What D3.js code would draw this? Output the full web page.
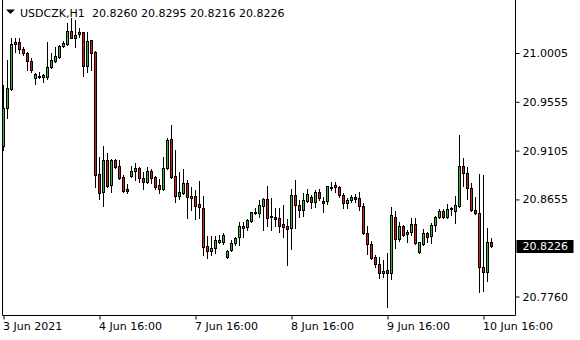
<!DOCTYPE html>
<html>
<head>
<meta charset="utf-8">
<script src="https://cdn.jsdelivr.net/npm/d3@7"></script>
<style>
  body { margin: 0; background: #fff; }
  svg { display: block; font-family: "DejaVu Sans", sans-serif; }
</style>
</head>
<body>
<svg id="Chart" width="580" height="340"></svg>
<script>
var symbol = "USDCZK,H1"

// hourly bars, oldest first
var opens = [20.9148,20.9498,20.9673,21.0088,21.0106,21.0042,21.0005,20.9931,20.9775,20.9784,
  20.9784,20.9784,20.9876,20.9931,20.9968,21.0070,21.0088,21.0208,21.0143,21.0180,
  21.0199,20.9885,21.0125,21.0014,20.8889,20.8723,20.9018,20.8788,20.9018,20.8963,
  20.8862,20.8751,20.8871,20.8917,20.8945,20.8853,20.8816,20.8917,20.8862,20.8788,
  20.8751,20.8945,20.9212,20.8871,20.8687,20.8714,20.8806,20.8668,20.8687,20.8613,
  20.8576,20.8226,20.8180,20.8207,20.8263,20.8263,20.8124,20.8189,20.8253,20.8309,
  20.8392,20.8401,20.8456,20.8530,20.8530,20.8594,20.8659,20.8502,20.8493,20.8484,
  20.8429,20.8410,20.8392,20.8696,20.8604,20.8557,20.8640,20.8677,20.8631,20.8723,
  20.8640,20.8640,20.8760,20.8788,20.8770,20.8696,20.8622,20.8650,20.8677,20.8668,
  20.8594,20.8346,20.8244,20.8124,20.8060,20.7976,20.8004,20.7976,20.8493,20.8290,
  20.8410,20.8336,20.8355,20.8429,20.8170,20.8244,20.8346,20.8318,20.8419,20.8493,
  20.8548,20.8493,20.8567,20.8548,20.8594,20.8963,20.8899,20.8760,20.8557,20.8530,
  20.8032,20.7986,20.8260]
var highs = [20.9710,20.9940,21.0143,21.0143,21.0143,21.0060,21.0014,20.9959,20.9821,20.9830,
  20.9811,21.0106,21.0005,21.0060,21.0079,21.0116,21.0282,21.0328,21.0309,21.0236,
  21.0199,21.0199,21.0125,21.0023,20.9046,20.9148,20.9083,20.9028,20.9028,20.9018,
  20.8880,20.8797,20.8963,20.8991,20.8954,20.8908,20.8954,20.8935,20.8871,20.8843,
  20.9046,20.9221,20.9341,20.9111,20.8908,20.8935,20.8834,20.8770,20.8742,20.8825,
  20.8687,20.8318,20.8318,20.8318,20.8327,20.8346,20.8189,20.8281,20.8309,20.8447,
  20.8447,20.8475,20.8539,20.8576,20.8650,20.8668,20.8779,20.8668,20.8576,20.8576,
  20.8604,20.8475,20.8751,20.8834,20.8650,20.8714,20.8751,20.8696,20.8742,20.8751,
  20.8677,20.8779,20.8816,20.8816,20.8779,20.8714,20.8668,20.8696,20.8705,20.8723,
  20.8622,20.8410,20.8272,20.8143,20.8124,20.8097,20.8161,20.8585,20.8548,20.8447,
  20.8419,20.8373,20.8484,20.8484,20.8263,20.8382,20.8355,20.8438,20.8502,20.8567,
  20.8567,20.8613,20.8585,20.8687,20.9249,20.9037,20.8954,20.8806,20.8677,20.8889,
  20.8880,20.8392,20.8295]
var lows = [20.9111,20.9406,20.9664,21.0014,21.0005,20.9987,20.9848,20.9830,20.9719,20.9775,
  20.9738,20.9765,20.9867,20.9922,20.9959,21.0060,21.0079,21.0143,21.0060,21.0153,
  20.9793,20.9830,20.9848,20.8770,20.8659,20.8594,20.8770,20.8723,20.8945,20.8843,
  20.8723,20.8714,20.8862,20.8834,20.8816,20.8751,20.8806,20.8806,20.8751,20.8714,
  20.8742,20.8935,20.8853,20.8631,20.8659,20.8705,20.8484,20.8557,20.8475,20.8484,
  20.8143,20.8115,20.8143,20.8161,20.8253,20.8244,20.8115,20.8180,20.8235,20.8235,
  20.8309,20.8373,20.8447,20.8521,20.8493,20.8373,20.8410,20.8373,20.8410,20.8355,
  20.8309,20.8050,20.8198,20.8392,20.8493,20.8502,20.8631,20.8576,20.8585,20.8650,
  20.8539,20.8613,20.8742,20.8723,20.8677,20.8576,20.8576,20.8631,20.8631,20.8557,
  20.8336,20.8152,20.8106,20.8032,20.7931,20.7940,20.7663,20.7921,20.8207,20.8272,
  20.8318,20.8263,20.8327,20.8244,20.8161,20.8235,20.8263,20.8253,20.8364,20.8484,
  20.8484,20.8484,20.8511,20.8438,20.8585,20.8779,20.8659,20.8548,20.8521,20.7801,
  20.7811,20.7903,20.8216]
var closes = [20.9498,20.9682,21.0088,21.0106,21.0042,21.0005,20.9931,20.9848,20.9811,20.9793,
  20.9802,20.9876,20.9940,20.9977,21.0070,21.0097,21.0208,21.0143,21.0171,21.0199,
  20.9885,21.0116,21.0005,20.8880,20.8714,20.9018,20.8779,20.9018,20.8954,20.8853,
  20.8733,20.8733,20.8917,20.8945,20.8853,20.8816,20.8917,20.8853,20.8770,20.8751,
  20.8945,20.9203,20.8862,20.8687,20.8723,20.8806,20.8677,20.8687,20.8594,20.8585,
  20.8217,20.8180,20.8207,20.8281,20.8281,20.8327,20.8180,20.8253,20.8300,20.8410,
  20.8410,20.8465,20.8539,20.8539,20.8604,20.8659,20.8484,20.8493,20.8475,20.8410,
  20.8401,20.8382,20.8696,20.8604,20.8557,20.8650,20.8705,20.8631,20.8723,20.8668,
  20.8622,20.8779,20.8770,20.8770,20.8696,20.8622,20.8650,20.8677,20.8659,20.8594,
  20.8346,20.8244,20.8115,20.8060,20.7976,20.7995,20.7976,20.8511,20.8290,20.8410,
  20.8327,20.8355,20.8429,20.8253,20.8263,20.8346,20.8309,20.8419,20.8493,20.8548,
  20.8493,20.8567,20.8576,20.8604,20.8963,20.8899,20.8760,20.8557,20.8530,20.8032,
  20.7986,20.8263,20.8226]

var priceTicks = [21.0005, 20.9555, 20.9105, 20.8655, 20.7760]
var timeTickBars = [0, 24, 48, 72, 96, 120]
var timeTickLabels = ["3 Jun 2021", "4 Jun 16:00", "7 Jun 16:00", "8 Jun 16:00", "9 Jun 16:00", "10 Jun 16:00"]

var bullColor = "#34b534"
var bearColor = "#d81c1c"

var svg = d3.select("#Chart")
var plotRight = 515.5
var plotBottom = 315.5

var bars = []
for (var i = 0; i < opens.length; i++) {
  bars.push({i: i, o: opens[i], h: highs[i], l: lows[i], c: closes[i]})
}

var x = d3.scaleLinear()
          .domain([0, 122])
          .range([3.5, 491.5])

var y = d3.scaleLinear()
          .domain([20.7760, 21.0005])
          .range([296.5, 53])

// frame
svg.append("path")
   .attr("d", "M2.5,0V" + plotBottom + "H" + plotRight + "V0")
   .attr("fill", "none")
   .attr("stroke", "black")
   .attr("stroke-width", 1)

// candles
var candles = svg.append("g").attr("id", "candles")
              .selectAll("g").data(bars).enter()
              .append("g")

candles.append("line")
       .attr("x1", function(d){ return x(d.i) })
       .attr("x2", function(d){ return x(d.i) })
       .attr("y1", function(d){ return Math.round(y(d.h)) })
       .attr("y2", function(d){ return Math.round(y(d.l)) + 1 })
       .attr("stroke", "black")
       .attr("stroke-width", 1)

candles.append("rect")
       .attr("x", function(d){ return x(d.i) - 1 })
       .attr("y", function(d){ return Math.round(y(Math.max(d.o, d.c))) + 0.5 })
       .attr("width", 2)
       .attr("height", function(d){
         return Math.max(1, Math.round(y(Math.min(d.o, d.c))) - Math.round(y(Math.max(d.o, d.c))))
       })
       .attr("fill", function(d){ return d.c >= d.o ? bullColor : bearColor })
       .attr("stroke", "black")
       .attr("stroke-width", 1)
       .attr("shape-rendering", "crispEdges")

// price axis
var yAxis = d3.axisRight(y)
              .tickValues(priceTicks)
              .tickSize(4)
              .tickPadding(3)
              .tickFormat(d3.format(".4f"))

var yAxisG = svg.append("g")
                .attr("transform", "translate(" + plotRight + ",0)")
                .call(yAxis)
yAxisG.select(".domain").remove()
yAxisG.selectAll("text").attr("font-size", "11px").attr("fill", "black").attr("font-family", "DejaVu Sans")

// time axis
var xAxis = d3.axisBottom(x)
              .tickValues(timeTickBars)
              .tickSize(4)
              .tickPadding(3)
              .tickFormat(function(d, i){ return timeTickLabels[i] })

var xAxisG = svg.append("g")
                .attr("transform", "translate(0," + plotBottom + ")")
                .call(xAxis)
xAxisG.select(".domain").remove()
xAxisG.selectAll("text")
      .attr("text-anchor", "start")
      .attr("x", -1)
      .attr("font-size", "11px")
      .attr("fill", "black")
      .attr("font-family", "DejaVu Sans")

// last price label
var last = closes[closes.length - 1]
svg.append("rect")
   .attr("x", plotRight + 1)
   .attr("y", Math.round(y(last)) - 6)
   .attr("width", 57)
   .attr("height", 13)
   .attr("fill", "black")
svg.append("text")
   .attr("x", plotRight + 7)
   .attr("y", y(last))
   .attr("dy", "0.35em")
   .attr("font-size", "11px")
   .attr("fill", "white")
   .text(d3.format(".4f")(last))

// header
svg.append("path")
   .attr("d", "M6,9.5H15L10.5,14Z")
   .attr("fill", "black")
svg.append("text")
   .attr("x", 20)
   .attr("y", 17)
   .attr("font-size", "11px")
   .attr("fill", "black")
   .text(symbol)
svg.append("text")
   .attr("x", 92)
   .attr("y", 17)
   .attr("font-size", "11px")
   .attr("fill", "black")
   .text([opens[122], highs[122], lows[122], closes[122]].map(d3.format(".4f")).join(" "))
</script>
</body>
</html>
